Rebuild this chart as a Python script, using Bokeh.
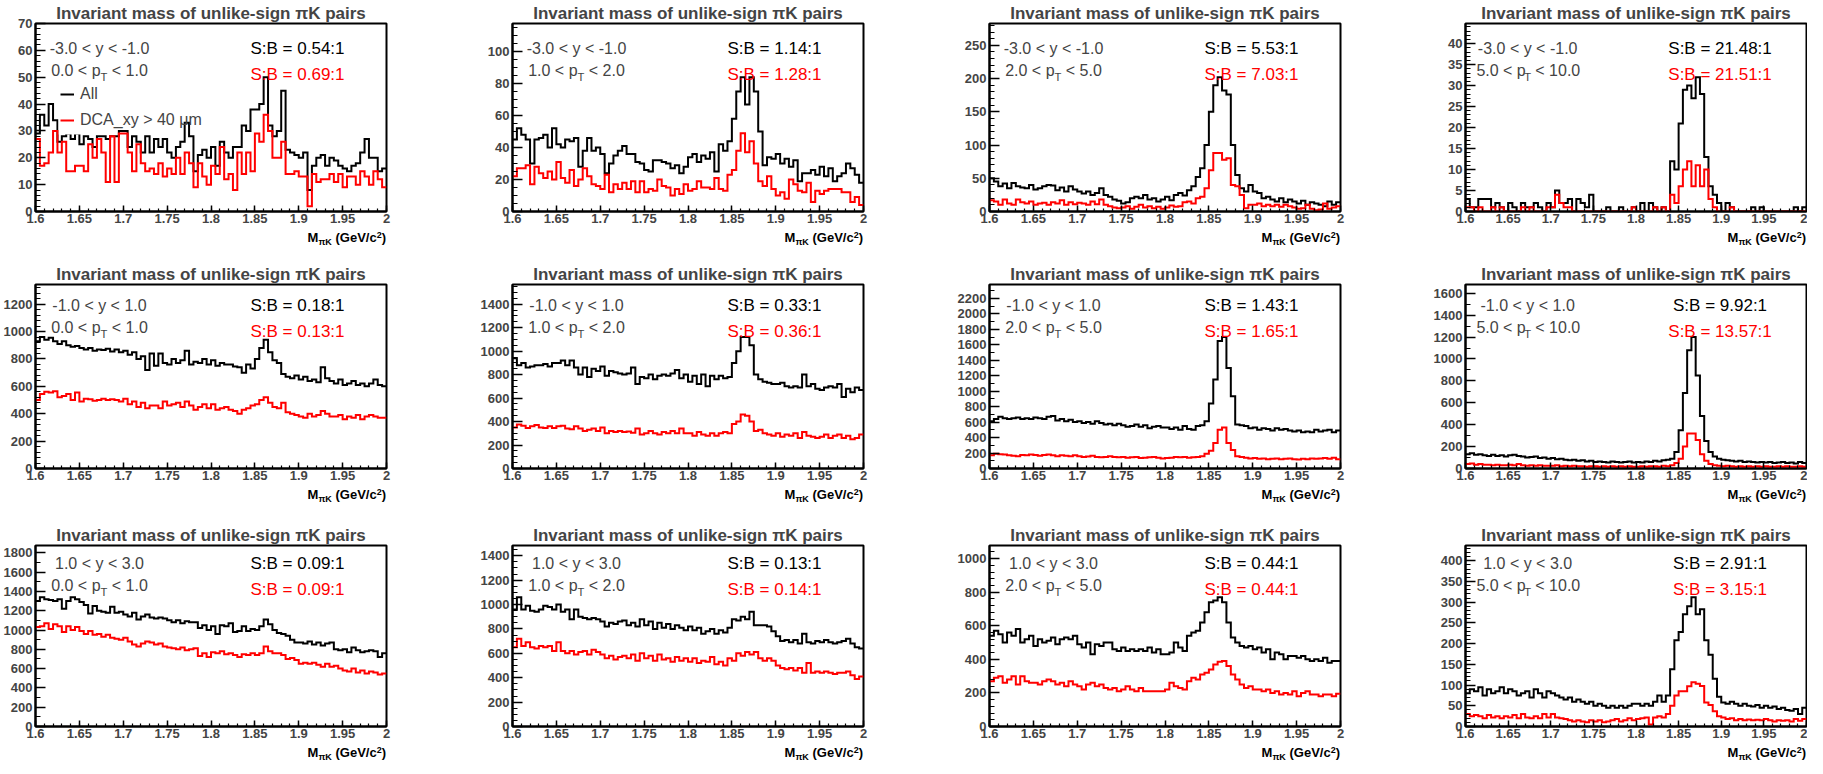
import numpy as np
from bokeh.plotting import figure
from bokeh.layouts import column, row
from bokeh.models import (Range1d, FixedTicker, CustomJSTickFormatter, Label,
                          Legend, LegendItem, Div, Spacer)
from bokeh.embed import file_html
from bokeh.resources import INLINE

# ---------------- data ----------------
BIN_LO, BIN_HI, N_BINS = 1.6, 2.0, 80
TITLE = "Invariant mass of unlike-sign πK pairs"
AXIS_TITLE_HTML = ("<div style='padding-top:2px'>M<sub style='font-size:9px;line-height:0;"
                   "vertical-align:-3px'>πK</sub> (GeV/c<sup style='font-size:9px;"
                   "line-height:0;vertical-align:4px'>2</sup>)</div>")
X_TICKS = [1.6, 1.65, 1.7, 1.75, 1.8, 1.85, 1.9, 1.95, 2.0]
Y_LABELS = ["-3.0 < y < -1.0"] * 4 + ["-1.0 < y < 1.0"] * 4 + ["1.0 < y < 3.0"] * 4
PT_LOW = ["0.0", "1.0", "2.0", "5.0"]
PT_HIGH = ["1.0", "2.0", "5.0", "10.0"]
SB_ALL = ["0.54", "1.14", "5.53", "21.48", "0.18", "0.33", "1.43", "9.92",
          "0.09", "0.13", "0.44", "2.91"]
SB_DCA = ["0.69", "1.28", "7.03", "21.51", "0.13", "0.36", "1.65", "13.57",
          "0.09", "0.14", "0.44", "3.15"]
Y_MAJOR = [10, 20, 50, 5, 200, 200, 200, 200, 200, 200, 200, 50]
Y_MINOR = [2, 5, 10, 1, 40, 50, 100, 100, 100, 50, 40, 10]
LEGEND_LABELS = ["All", "DCA_xy > 40 μm"]

ALL_P1 = [29, 36, 32, 40, 34, 26, 28, 29, 27, 29, 25, 28, 27, 24, 28, 28, 27, 28, 28, 30,
          30, 24, 28, 26, 22, 28, 22, 27, 24, 27, 22, 20, 24, 26, 33, 28, 15, 21, 23, 20,
          24, 17, 26, 22, 20, 24, 24, 32, 30, 38, 38, 40, 50, 32, 28, 30, 45, 23, 22, 21,
          20, 22, 8, 17, 20, 21, 17, 20, 19, 17, 16, 15, 17, 18, 22, 27, 20, 20, 15, 16]
DCA_P1 = [27, 17, 18, 22, 30, 22, 26, 15, 15, 17, 17, 15, 25, 20, 27, 22, 11, 28, 11, 29,
          29, 22, 15, 25, 18, 15, 16, 14, 18, 13, 16, 14, 20, 14, 22, 18, 9, 18, 13, 10,
          17, 14, 24, 12, 14, 8, 22, 14, 22, 15, 29, 26, 36, 30, 20, 20, 26, 14, 14, 15,
          13, 13, 2, 14, 11, 12, 12, 14, 11, 14, 9, 13, 13, 10, 15, 13, 10, 15, 12, 9]

ALL_P2 = [45, 52, 48, 45, 30, 45, 46, 48, 40, 52, 42, 40, 45, 44, 46, 28, 38, 46, 38, 40,
          36, 24, 30, 35, 38, 41, 36, 36, 31, 30, 26, 25, 32, 32, 31, 30, 27, 29, 24, 28,
          34, 36, 31, 35, 33, 37, 25, 42, 38, 44, 58, 75, 84, 67, 84, 75, 50, 29, 34, 33,
          36, 30, 33, 28, 32, 19, 24, 24, 26, 23, 28, 22, 27, 19, 22, 24, 30, 27, 23, 18]
DCA_P2 = [22, 27, 27, 29, 17, 28, 24, 21, 25, 20, 31, 21, 18, 26, 16, 20, 27, 22, 17, 16,
          14, 23, 12, 17, 14, 18, 14, 19, 12, 19, 12, 14, 13, 20, 16, 15, 10, 14, 11, 17,
          13, 14, 19, 15, 15, 14, 21, 14, 13, 23, 26, 38, 49, 37, 44, 30, 19, 16, 22, 14,
          10, 12, 8, 20, 17, 13, 12, 18, 6, 13, 11, 13, 14, 14, 14, 12, 12, 6, 9, 4]

ALL_P3 = [50, 45, 38, 42, 35, 43, 38, 36, 35, 40, 33, 35, 38, 40, 39, 32, 36, 30, 38, 33,
          30, 27, 30, 25, 28, 35, 25, 22, 18, 16, 12, 14, 20, 22, 20, 25, 18, 20, 15, 18,
          22, 17, 25, 28, 24, 32, 38, 52, 65, 100, 150, 190, 202, 182, 176, 100, 55, 35, 30, 40,
          30, 28, 20, 22, 18, 15, 20, 14, 18, 15, 12, 16, 10, 14, 12, 10, 8, 15, 10, 14]
DCA_P3 = [17, 15, 10, 18, 12, 10, 18, 14, 12, 15, 10, 12, 13, 10, 14, 12, 17, 10, 14, 11,
          13, 12, 10, 15, 11, 18, 10, 8, 6, 5, 6, 8, 4, 7, 10, 6, 8, 5, 7, 4,
          6, 9, 7, 8, 14, 15, 12, 20, 22, 35, 62, 88, 88, 78, 80, 40, 38, 25, 5, 10,
          10, 12, 8, 10, 8, 10, 7, 10, 8, 6, 4, 5, 10, 4, 2, 3, 12, 4, 6, 8]

ALL_P4 = [3, 1, 1, 3, 3, 3, 1, 2, 1, 0, 2, 1, 0, 2, 1, 1, 2, 1, 0, 2,
          1, 5, 2, 2, 3, 0, 3, 2, 1, 4, 0, 0, 0, 1, 0, 0, 1, 0, 0, 1,
          0, 2, 0, 2, 1, 0, 1, 0, 12, 10, 21, 29, 30, 27, 32, 28, 13, 6, 4, 2,
          0, 2, 1, 0, 0, 0, 0, 1, 0, 1, 0, 0, 0, 0, 0, 0, 0, 1, 0, 1]
DCA_P4 = [1, 1, 0, 1, 0, 0, 1, 0, 1, 0, 0, 0, 0, 1, 0, 1, 0, 0, 0, 1,
          1, 4, 2, 1, 1, 0, 0, 0, 0, 0, 0, 0, 0, 0, 0, 0, 0, 0, 0, 1,
          0, 0, 0, 0, 1, 0, 1, 0, 4, 2, 6, 10, 12, 6, 11, 6, 10, 3, 1, 0,
          0, 0, 1, 0, 0, 0, 0, 0, 0, 0, 0, 0, 0, 0, 0, 0, 0, 0, 0, 0]

ALL_P5 = [930, 960, 940, 955, 930, 910, 930, 900, 890, 895, 880, 870, 880, 860, 870, 865, 875, 855, 870, 850,
          860, 830, 850, 800, 820, 720, 840, 750, 840, 770, 760, 800, 770, 790, 860, 760, 780, 770, 800, 760,
          790, 750, 770, 760, 760, 745, 740, 700, 760, 730, 800, 880, 940, 850, 790, 770, 690, 670, 660, 680,
          650, 670, 640, 650, 630, 740, 660, 640, 620, 650, 610, 620, 640, 610, 620, 600, 620, 650, 610, 600]
DCA_P5 = [500, 545, 560, 555, 565, 520, 530, 545, 500, 555, 490, 510, 505, 495, 500, 510, 500, 505, 500, 490,
          510, 470, 490, 450, 480, 440, 460, 460, 440, 490, 460, 470, 480, 450, 490, 460, 430, 450, 470, 440,
          470, 430, 440, 450, 430, 420, 400, 430, 440, 460, 470, 500, 520, 480, 450, 440, 480, 410, 400, 390,
          380, 370, 400, 380, 390, 420, 400, 380, 380, 390, 360, 380, 370, 390, 360, 380, 390, 380, 370, 370]

ALL_P6 = [940, 880, 900, 860, 870, 880, 880, 890, 870, 900, 900, 920, 880, 920, 860, 800, 860, 780, 850, 830,
          870, 790, 830, 820, 810, 800, 810, 860, 720, 780, 770, 800, 760, 790, 800, 790, 810, 840, 770, 800,
          740, 790, 720, 800, 700, 790, 760, 790, 770, 780, 900, 1000, 1120, 1120, 1050, 800, 760, 740, 730, 720,
          720, 730, 700, 690, 700, 690, 800, 700, 720, 680, 670, 690, 700, 690, 720, 610, 680, 650, 690, 670]
DCA_P6 = [350, 375, 365, 345, 360, 370, 350, 345, 360, 345, 360, 365, 340, 335, 360, 340, 320, 330, 340, 320,
          350, 300, 320, 310, 320, 310, 315, 305, 340, 290, 300, 320, 300, 290, 310, 300, 320, 300, 340, 300,
          300, 280, 310, 290, 280, 300, 280, 300, 310, 300, 380, 400, 460, 450, 400, 320, 330, 300, 290, 280,
          300, 270, 290, 280, 300, 260, 310, 280, 270, 260, 270, 290, 260, 280, 290, 260, 280, 250, 260, 290]

ALL_P7 = [610, 640, 670, 650, 640, 650, 660, 640, 650, 640, 660, 650, 640, 670, 680, 620, 640, 610, 630, 600,
          610, 590, 600, 580, 610, 590, 570, 580, 560, 580, 560, 540, 550, 570, 540, 560, 520, 540, 550, 530,
          530, 510, 530, 500, 550, 510, 500, 550, 560, 610, 840, 1150, 1650, 1700, 1300, 935, 570, 560, 550, 520,
          530, 500, 520, 510, 490, 520, 500, 510, 490, 480, 490, 470, 480, 470, 500, 480, 490, 500, 470, 490]
DCA_P7 = [170, 190, 185, 180, 170, 165, 160, 175, 170, 180, 175, 165, 175, 180, 170, 160, 170, 165, 160, 170,
          160, 150, 155, 165, 150, 145, 150, 160, 150, 145, 150, 140, 145, 150, 135, 140, 145, 150, 140, 130,
          135, 140, 150, 145, 150, 140, 145, 150, 160, 190, 230, 330, 500, 530, 330, 240, 160, 150, 140, 130,
          135, 125, 130, 120, 125, 130, 120, 125, 130, 120, 115, 125, 120, 130, 125, 130, 135, 125, 140, 120]

ALL_P8 = [130, 140, 125, 130, 120, 115, 125, 115, 120, 110, 120, 125, 115, 110, 100, 105, 110, 95, 100, 90,
          95, 85, 90, 80, 75, 80, 70, 75, 65, 70, 60, 65, 60, 55, 65, 60, 55, 60, 65, 55,
          60, 55, 65, 60, 70, 65, 75, 80, 90, 150, 350, 690, 1080, 1200, 850, 480, 250, 150, 110, 90,
          80, 75, 70, 65, 70, 60, 65, 60, 55, 60, 55, 60, 50, 55, 60, 50, 55, 45, 60, 50]
DCA_P8 = [40, 45, 35, 40, 35, 35, 30, 35, 30, 30, 35, 30, 40, 30, 25, 30, 25, 30, 25, 25,
          25, 30, 20, 25, 20, 25, 20, 20, 15, 20, 20, 15, 20, 15, 20, 15, 20, 15, 20, 15,
          15, 20, 15, 20, 20, 15, 25, 20, 30, 50, 90, 200, 320, 320, 260, 130, 70, 40, 30, 25,
          20, 25, 20, 15, 20, 15, 20, 15, 20, 15, 20, 15, 15, 20, 15, 20, 15, 15, 20, 15]

ALL_P9 = [1300, 1340, 1320, 1310, 1300, 1320, 1220, 1300, 1340, 1320, 1290, 1260, 1170, 1250, 1200, 1190, 1180, 1240, 1180, 1190,
          1160, 1140, 1180, 1110, 1140, 1160, 1130, 1120, 1130, 1120, 1100, 1080, 1100, 1070, 1090, 1080, 1080, 1020, 1050, 1000,
          1040, 960, 1050, 1040, 1070, 980, 990, 1040, 990, 1010, 1000, 1040, 1110, 1060, 1000, 970, 960, 940, 900, 870,
          870, 860, 880, 850, 870, 840, 860, 870, 800, 790, 800, 770, 820, 790, 770, 780, 790, 780, 720, 760]
DCA_P9 = [1030, 1040, 1070, 1010, 1060, 1040, 980, 1040, 1000, 1030, 990, 960, 990, 950, 960, 930, 950, 920, 910, 900,
          920, 880, 850, 830, 860, 880, 870, 850, 860, 830, 820, 810, 800, 820, 790, 800, 810, 730, 760, 720,
          770, 760, 780, 750, 760, 740, 720, 750, 740, 760, 740, 760, 830, 780, 760, 760, 740, 700, 710, 690,
          650, 660, 650, 660, 640, 620, 650, 620, 630, 600, 580, 570, 600, 560, 580, 550, 570, 560, 540, 550]

ALL_P10 = [960, 1060, 960, 990, 950, 940, 960, 990, 980, 960, 1000, 940, 960, 880, 960, 900, 890, 880, 890, 880,
           860, 820, 850, 840, 860, 870, 830, 850, 820, 880, 830, 860, 800, 850, 810, 840, 800, 830, 810, 790,
           820, 790, 810, 760, 780, 800, 760, 790, 770, 810, 880, 870, 900, 880, 940, 830, 830, 830, 820, 780,
           740, 700, 710, 690, 710, 680, 760, 690, 680, 700, 690, 710, 690, 680, 690, 700, 720, 680, 650, 640]
DCA_P10 = [650, 720, 660, 690, 650, 640, 660, 650, 660, 620, 690, 620, 600, 620, 590, 610, 620, 590, 630, 610,
           590, 560, 580, 550, 570, 580, 560, 590, 540, 600, 560, 580, 540, 590, 550, 560, 530, 570, 540, 560,
           530, 560, 520, 540, 530, 570, 510, 530, 500, 560, 540, 600, 580, 610, 590, 610, 560, 540, 560, 540,
           500, 480, 470, 480, 460, 480, 440, 520, 440, 450, 440, 450, 440, 430, 440, 440, 450, 420, 390, 410]

ALL_P11 = [540, 570, 550, 500, 560, 540, 580, 500, 520, 540, 480, 520, 500, 510, 530, 490, 520, 530, 520, 540,
           490, 470, 500, 430, 490, 480, 500, 500, 460, 450, 470, 450, 460, 450, 460, 450, 470, 440, 460, 430,
           430, 440, 500, 470, 450, 540, 560, 570, 620, 680, 740, 750, 770, 740, 620, 530, 500, 480, 470, 480,
           460, 470, 440, 460, 400, 440, 430, 400, 420, 420, 410, 420, 400, 390, 400, 390, 410, 380, 390, 390]
DCA_P11 = [270, 290, 300, 260, 280, 300, 250, 300, 270, 260, 260, 250, 270, 280, 270, 250, 260, 240, 270, 250,
           240, 220, 250, 260, 240, 250, 230, 220, 230, 210, 220, 240, 220, 210, 230, 210, 210, 210, 210, 210,
           220, 260, 240, 230, 220, 270, 290, 280, 310, 320, 340, 370, 385, 390, 360, 310, 280, 250, 230, 240,
           220, 220, 210, 220, 200, 210, 190, 200, 190, 210, 180, 200, 210, 190, 190, 180, 190, 190, 180, 195]

ALL_P12 = [80, 90, 85, 95, 75, 90, 80, 85, 95, 80, 90, 85, 75, 80, 85, 70, 90, 80, 70, 85,
           80, 75, 70, 65, 70, 60, 65, 60, 55, 60, 50, 55, 50, 45, 50, 45, 50, 45, 50, 55,
           55, 50, 55, 50, 60, 75, 60, 75, 138, 208, 228, 271, 290, 312, 271, 283, 208, 173, 115, 72,
           58, 55, 60, 55, 50, 55, 50, 48, 52, 45, 50, 45, 48, 42, 45, 40, 38, 42, 30, 45]
DCA_P12 = [30, 25, 28, 25, 20, 28, 22, 25, 20, 25, 22, 28, 20, 30, 22, 20, 25, 20, 30, 22,
           30, 22, 20, 18, 15, 12, 15, 12, 10, 15, 12, 15, 10, 12, 15, 18, 12, 15, 20, 15,
           18, 20, 22, 5, 22, 25, 22, 30, 50, 75, 85, 85, 97, 107, 103, 98, 58, 52, 37, 25,
           22, 18, 20, 15, 18, 15, 17, 15, 16, 15, 18, 15, 12, 15, 14, 15, 12, 18, 14, 18]

PANEL_DATA = [(ALL_P1, DCA_P1), (ALL_P2, DCA_P2), (ALL_P3, DCA_P3), (ALL_P4, DCA_P4),
              (ALL_P5, DCA_P5), (ALL_P6, DCA_P6), (ALL_P7, DCA_P7), (ALL_P8, DCA_P8),
              (ALL_P9, DCA_P9), (ALL_P10, DCA_P10), (ALL_P11, DCA_P11), (ALL_P12, DCA_P12)]

# ---------------- layout / style ----------------
FONT = "Liberation Sans"
RED = "#ff0000"
COL_LEFT = [35, 60, 60, 60]
COL_FRAME_W = [351, 351, 351, 341]
COL_RIGHT = [66, 66, 65, 1]
ROW_TOP = [21, 22, 22]
ROW_FRAME_H = [188, 184, 181]
ROW_BOTTOM = [17, 17, 17]
ROW_DIV_H = [33, 37, 20]
REF_FRAME_W = 351
TXT = 16

REG_W = {'0': .556, '1': .556, '2': .556, '3': .556, '4': .556, '5': .556, '6': .556,
         '7': .556, '8': .556, '9': .556, '.': .278, ' ': .278, '<': .584, '=': .584,
         'p': .556, 'y': .5, 'T': .611, '-': .333, 'S': .667, ':': .278, 'B': .667}


def tw(s, size):
    return sum(REG_W.get(ch, 0.556) for ch in s) * size


EDGES = np.linspace(BIN_LO, BIN_HI, N_BINS + 1)
X_MINOR = [round(BIN_LO + 0.01 * k, 2) for k in range(41)]


def make_panel(i):
    r, c = divmod(i, 4)
    fw, fh = COL_FRAME_W[c], ROW_FRAME_H[r]
    all_v, dca_v = PANEL_DATA[i]
    ymax = 1.4 * max(all_v)
    xspan = BIN_HI - BIN_LO

    def X(px):
        return BIN_LO + px / REF_FRAME_W * xspan

    def Y(py):
        return py / fh * ymax

    p = figure(frame_width=fw, frame_height=fh,
               x_range=Range1d(BIN_LO, BIN_HI), y_range=Range1d(0, ymax),
               output_backend="svg", toolbar_location=None, title=TITLE,
               min_border_left=COL_LEFT[c], min_border_right=COL_RIGHT[c],
               min_border_top=ROW_TOP[r], min_border_bottom=ROW_BOTTOM[r])
    p.title.text_font = FONT
    p.title.text_font_style = "bold"
    p.title.text_font_size = "17px"
    p.title.align = "center"
    p.title.standoff = 2
    p.grid.visible = False
    p.outline_line_color = "black"
    p.outline_line_width = 2
    p.background_fill_color = "white"
    p.border_fill_color = "white"

    p.xaxis.ticker = FixedTicker(ticks=X_TICKS, minor_ticks=X_MINOR)
    p.xaxis.formatter = CustomJSTickFormatter(
        code="return (Math.round(tick*1000)/1000).toString();")
    yt = list(range(0, int(ymax) + 1, Y_MAJOR[i]))
    ym = list(range(0, int(ymax) + 1, Y_MINOR[i]))
    p.yaxis.ticker = FixedTicker(ticks=yt, minor_ticks=ym)
    for ax in (p.xaxis[0], p.yaxis[0]):
        ax.axis_line_width = 2
        ax.major_tick_out = 0
        ax.minor_tick_out = 0
        ax.major_tick_line_width = 1.5
        ax.minor_tick_line_width = 1.2
        ax.major_label_text_font = FONT
        ax.major_label_text_font_style = "bold"
        ax.major_label_text_font_size = "13px"
        ax.major_label_standoff = 3
    p.xaxis.major_label_standoff = 2
    p.xaxis.major_tick_in = 6
    p.xaxis.minor_tick_in = 3
    p.yaxis.major_tick_in = 10
    p.yaxis.minor_tick_in = 5

    ys_all = list(all_v) + [all_v[-1]]
    ys_dca = list(dca_v) + [dca_v[-1]]
    r_all = p.step(x=EDGES, y=ys_all, mode="after", line_color="black",
                   line_width=2, line_join="miter")
    if i == 0:
        # white legend box (drawn over the "All" histogram, under the DCA one)
        p.quad(left=[X(23)], right=[X(80)], bottom=[Y(77)], top=[Y(128)],
               fill_color="white", line_color=None)
    r_dca = p.step(x=EDGES, y=ys_dca, mode="after", line_color=RED,
                   line_width=2, line_join="miter")

    # rapidity / pT texts
    p.add_layout(Label(x=X(64), y=Y(163), text=Y_LABELS[i], text_align="center",
                       text_baseline="middle", text_font=FONT, text_font_size=f"{TXT}px"))
    a = f"{PT_LOW[c]} < p"
    b = f"< {PT_HIGH[c]}"
    sub = TXT * 0.7
    wa = tw(a, TXT)
    wt = tw("T", sub)
    wsp = tw(" ", TXT)
    wb = tw(b, TXT)
    x0 = 64 - (wa + wt + wsp + wb) / 2
    p.add_layout(Label(x=X(x0), y=Y(141), text=a, text_align="left",
                       text_baseline="middle", text_font=FONT, text_font_size=f"{TXT}px"))
    p.add_layout(Label(x=X(x0 + wa), y=Y(135), text="T", text_align="left",
                       text_baseline="middle", text_font=FONT, text_font_size=f"{sub}px"))
    p.add_layout(Label(x=X(x0 + wa + wt + wsp), y=Y(141), text=b, text_align="left",
                       text_baseline="middle", text_font=FONT, text_font_size=f"{TXT}px"))

    # S:B texts
    p.add_layout(Label(x=X(262), y=Y(163), text=f"S:B = {SB_ALL[i]}:1",
                       text_align="center", text_baseline="middle", text_font=FONT,
                       text_font_size="17px", text_color="black"))
    p.add_layout(Label(x=X(262), y=Y(137), text=f"S:B = {SB_DCA[i]}:1",
                       text_align="center", text_baseline="middle", text_font=FONT,
                       text_font_size="17px", text_color=RED))

    if i == 0:
        legend = Legend(items=[LegendItem(label=LEGEND_LABELS[0], renderers=[r_all]),
                               LegendItem(label=LEGEND_LABELS[1], renderers=[r_dca])],
                        location=(25, 81), glyph_width=14, glyph_height=20,
                        label_height=20, label_standoff=6, spacing=6, padding=0,
                        margin=0, border_line_alpha=0, background_fill_alpha=0,
                        label_text_font=FONT, label_text_font_size=f"{TXT}px")
        p.add_layout(legend)
    return p


def axis_title(r, c):
    w = COL_LEFT[c] + COL_FRAME_W[c]
    d = Div(text=AXIS_TITLE_HTML, width=w, height=ROW_DIV_H[r], margin=(0, 0, 0, 0),
            styles={"font-family": FONT, "font-weight": "bold", "font-size": "13px",
                    "line-height": "15px", "text-align": "right",
                    "white-space": "nowrap", "color": "black"})
    return row(d, Spacer(width=COL_RIGHT[c], height=ROW_DIV_H[r], margin=(0, 0, 0, 0)),
               spacing=0, margin=(0, 0, 0, 0))


figs = [make_panel(i) for i in range(12)]
parts = []
for r in range(3):
    parts.append(row(*figs[r * 4:(r + 1) * 4], spacing=0, margin=(0, 0, 0, 0)))
    parts.append(row(*[axis_title(r, c) for c in range(4)], spacing=0, margin=(0, 0, 0, 0)))
layout = column(*parts, spacing=0, margin=(0, 0, 0, 0))
open("out.html", "w").write(file_html(layout, INLINE))
